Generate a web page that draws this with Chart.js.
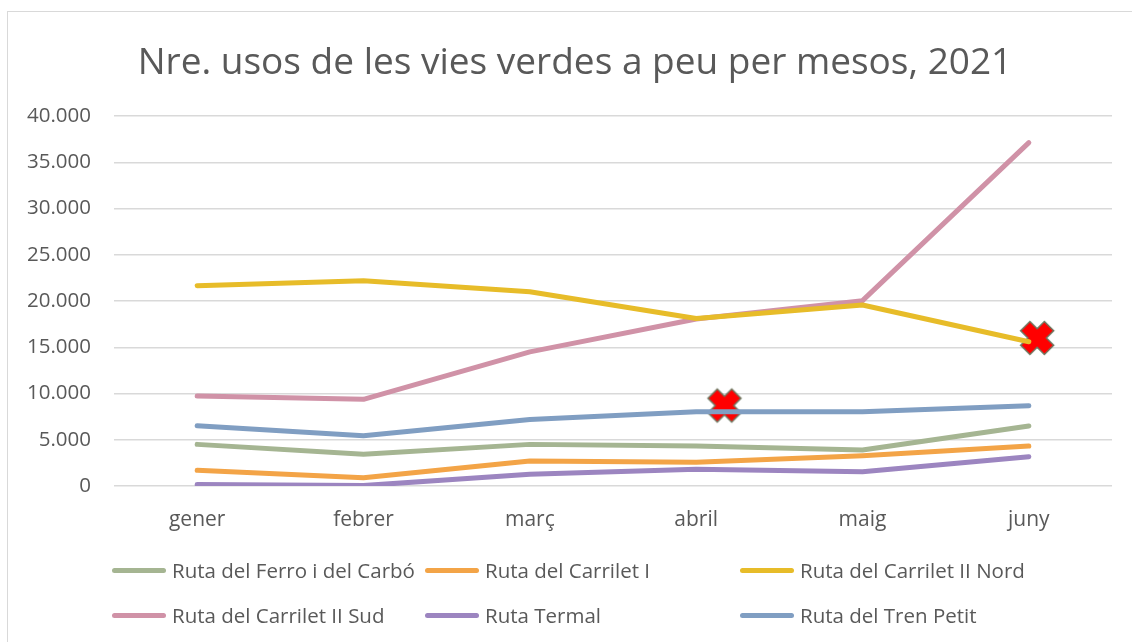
<!DOCTYPE html>
<html>
<head>
<meta charset="utf-8">
<script src="https://cdn.jsdelivr.net/npm/chart.js@4.4.1/dist/chart.umd.min.js"></script>
<style>
  html, body { margin: 0; padding: 0; background: #fff; }
  #wrap { position: relative; width: 1132px; height: 642px; overflow: hidden; }
  #frame { position: absolute; left: 7px; top: 11px; width: 1140px; height: 700px; border: 1px solid #d9d9d9; box-sizing: border-box; }
  #c { position: absolute; left: 0; top: 0; }
  #title { position: absolute; left: 0; top: 38px; width: 1150px; text-align: center; line-height: 44px;
           font-family: "Open Sans", Lato, sans-serif; font-size: 37px; color: #595959; white-space: nowrap; }
  #legend { position: absolute; left: 0; top: 0; width: 1132px; height: 642px; pointer-events: none;
            font-family: "Open Sans", Lato, sans-serif; font-size: 20.5px; color: #595959; }
  .item { position: absolute; display: flex; align-items: center; white-space: nowrap; transform: translateY(-50%); }
  .swatch { width: 54px; height: 5px; border-radius: 3px; margin-right: 6px; }
</style>
</head>
<body>
<div id="wrap">
  <div id="frame"></div>
  <canvas id="c" width="1132" height="642"></canvas>
  <div id="title"></div>
  <div id="legend"></div>
</div>
<script>
const titleText = "Nre. usos de les vies verdes a peu per mesos, 2021";
const months = ["gener", "febrer", "març", "abril", "maig", "juny"];
const seriesNames = ["Ruta del Ferro i del Carbó", "Ruta del Carrilet I", "Ruta del Carrilet II Nord",
                     "Ruta del Carrilet II Sud", "Ruta Termal", "Ruta del Tren Petit"];
const ferroCarbo   = [4500, 3420, 4500, 4320, 3890, 6490];
const carrilet1    = [1700, 900, 2700, 2560, 3280, 4320];
const carrilet2Nord = [21650, 22200, 21000, 18100, 19570, 15600];
const carrilet2Sud = [9730, 9370, 14500, 18050, 20040, 37120];
const termal       = [150, 50, 1260, 1800, 1550, 3170];
const trenPetit    = [6520, 5440, 7200, 8040, 8040, 8680];
const seriesColors = ["#a5b592", "#f3a447", "#e7bc29", "#d092a7", "#9c85c0", "#809ec2"];
// red cross markers (x in category index units)
const markerX = [3.17, 5.05];
const markerY = [8700, 16000];
const yTicks = [0, 5000, 10000, 15000, 20000, 25000, 30000, 35000, 40000];

const FONT = '"Open Sans", Lato, sans-serif';
const TXT = '#595959';

document.getElementById('title').textContent = titleText;

function makeCross() {
  const s = 38, c = document.createElement('canvas');
  c.width = s; c.height = s;
  const g = c.getContext('2d');
  g.translate(s / 2, s / 2);
  g.rotate(Math.PI / 4);
  const a = 16, w = 5.8;
  g.beginPath();
  g.moveTo(-w, -a); g.lineTo(w, -a); g.lineTo(w, -w); g.lineTo(a, -w); g.lineTo(a, w);
  g.lineTo(w, w); g.lineTo(w, a); g.lineTo(-w, a); g.lineTo(-w, w); g.lineTo(-a, w);
  g.lineTo(-a, -w); g.lineTo(-w, -w); g.closePath();
  g.fillStyle = '#ff0000';
  g.strokeStyle = '#6e7760';
  g.lineWidth = 3;
  g.lineJoin = 'miter';
  g.stroke();
  g.fill();
  return c;
}

const seriesData = [ferroCarbo, carrilet1, carrilet2Nord, carrilet2Sud, termal, trenPetit];
const datasets = seriesData.map((d, i) => ({
  type: 'line',
  label: seriesNames[i],
  data: d,
  borderColor: seriesColors[i],
  backgroundColor: seriesColors[i],
  borderWidth: 5,
  borderCapStyle: 'round',
  borderJoinStyle: 'round',
  pointRadius: 0,
  tension: 0,
  xAxisID: 'x',
  yAxisID: 'y'
}));
datasets.push({
  type: 'scatter',
  label: '_markers',
  data: markerX.map((x, i) => ({ x: x, y: markerY[i] })),
  pointStyle: makeCross(),
  pointRadius: 19,
  xAxisID: 'x2',
  yAxisID: 'y'
});

const chart = new Chart(document.getElementById('c'), {
  data: { labels: months, datasets: datasets },
  options: {
    responsive: false,
    animation: false,
    events: [],
    layout: { padding: { left: 0, right: 20, top: 116, bottom: 111 } },
    plugins: {
      legend: { display: false },
      tooltip: { enabled: false },
      title: { display: false }
    },
    scales: {
      x: {
        type: 'category',
        offset: true,
        grid: { display: false },
        border: { display: false },
        ticks: { color: TXT, font: { family: FONT, size: 21 }, padding: 13 },
        afterFit: s => { s.height = 45; }
      },
      x2: {
        type: 'linear',
        display: false,
        min: -0.5,
        max: 5.5
      },
      y: {
        min: 0,
        max: 40000,
        afterBuildTicks: s => { s.ticks = yTicks.map(v => ({ value: v })); },
        grid: { color: '#d9d9d9', lineWidth: 1.5, drawTicks: false },
        border: { display: false },
        ticks: {
          color: TXT,
          font: { family: FONT, size: 20.5 },
          padding: 23,
          callback: v => v === 0 ? '0' : String(v).replace(/\B(?=(\d{3})+(?!\d))/g, '.')
        },
        afterFit: s => { s.width = 114; }
      }
    }
  }
});

// legend in a 3-column grid, built from the chart's datasets
const legendEl = document.getElementById('legend');
const colX = [112, 425, 740];
const rowY = [570, 615];
chart.data.datasets.filter(d => d.type === 'line').forEach((d, i) => {
  const it = document.createElement('div');
  it.className = 'item';
  it.style.left = colX[i % 3] + 'px';
  it.style.top = rowY[Math.floor(i / 3)] + 'px';
  const sw = document.createElement('span');
  sw.className = 'swatch';
  sw.style.background = d.borderColor;
  const tx = document.createElement('span');
  tx.textContent = d.label;
  it.appendChild(sw); it.appendChild(tx);
  legendEl.appendChild(it);
});
</script>
</body>
</html>
